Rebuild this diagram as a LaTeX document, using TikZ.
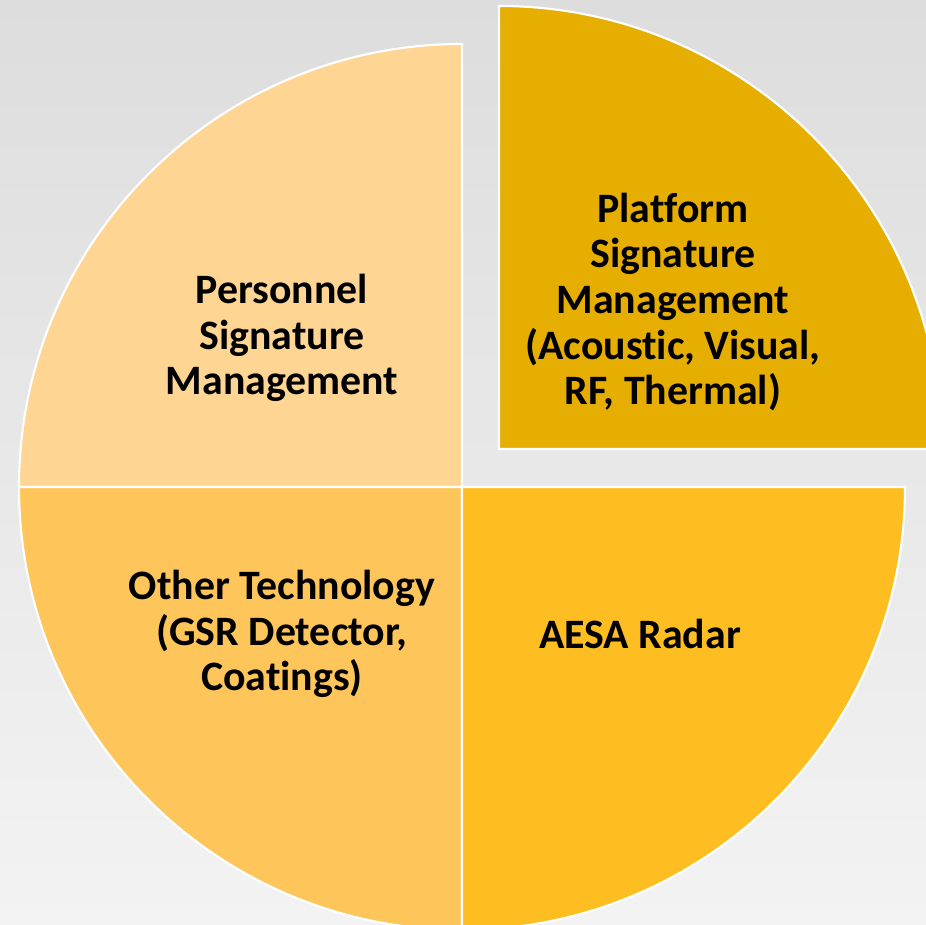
\documentclass[tikz,border=0pt]{standalone}
\usepackage{fontspec}
\setmainfont[Ligatures=NoCommon]{Carlito}
\definecolor{bgtop}{RGB}{221,221,221}
\definecolor{bgbot}{RGB}{243,243,243}
\definecolor{personnel}{RGB}{254,213,147}
\definecolor{platform}{RGB}{230,174,0}
\definecolor{aesa}{RGB}{254,190,34}
\definecolor{othertech}{RGB}{254,197,90}

\begin{document}
\begin{tikzpicture}[x=0.01cm,y=0.01cm,
    wedge/.style={draw=white,line width=0.6pt},
    lbl/.style={font=\bfseries\fontsize{11.9}{13}\selectfont,align=center}]
    \useasboundingbox (0,0) rectangle (926,925);
    \clip (0,0) rectangle (926,925);
    \shade[top color=bgtop,bottom color=bgbot] (0,0) rectangle (926,925);
    % the four quarters, platform pulled out
    \coordinate (ctr) at (462,438);
    \coordinate (ctrx) at (499,476);
    \filldraw[wedge,fill=personnel] (ctr) -- ++(180:443) arc[start angle=180,end angle=90,radius=443] -- cycle;
    \filldraw[wedge,fill=othertech] (ctr) -- ++(270:443) arc[start angle=270,end angle=180,radius=443] -- cycle;
    \filldraw[wedge,fill=aesa] (ctr) -- ++(0:443) arc[start angle=360,end angle=270,radius=443] -- cycle;
    \filldraw[wedge,fill=platform] (ctrx) -- ++(90:443) arc[start angle=90,end angle=0,radius=443] -- cycle;
    % labels
    \node[lbl] (personnel) at (282,587) {Personnel\\Signature\\Management};
    \node[lbl] (platform) at (673,623) {Platform\\Signature\\Management\\(Acoustic, Visual,\\RF, Thermal)};
    \node[lbl] (othertech) at (282,291) {Other Technology\\(GSR Detector,\\Coatings)};
    \node[lbl] (aesa) at (640,291) {AESA Radar};
\end{tikzpicture}
\end{document}
